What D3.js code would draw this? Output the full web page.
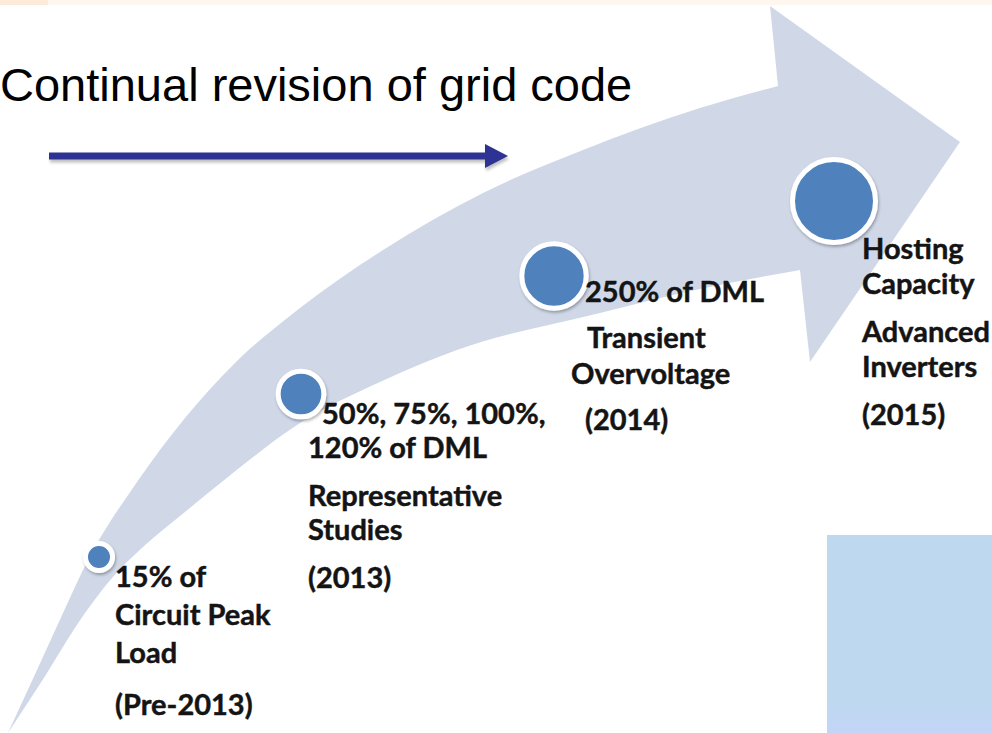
<!DOCTYPE html>
<html>
<head>
<meta charset="utf-8">
<script src="https://cdn.jsdelivr.net/npm/d3@7"></script>
<style>
    body { margin: 0; background: #ffffff; overflow: hidden; }
    #chart-area { width: 992px; height: 733px; }
    .grid-title { font-family: "Liberation Sans", Arial, sans-serif; font-size: 47px; fill: #000000; }
    .stage-text { font-family: Lato, "Open Sans", sans-serif; font-weight: bold; font-size: 29px; fill: #141414;
        stroke: #141414; stroke-width: 0.45px; }
</style>
</head>
<body>
<div id="chart-area"></div>
<script>

// data
let stageNames = ["Pre-2013", "2013", "2014", "2015"];
let stageLevels = [1, 2, 3, 4];
let stageTopics = [
    [["15% of", "Circuit Peak", "Load"]],
    [["50%, 75%, 100%,", "120% of DML"], ["Representative", "Studies"]],
    [["250% of DML"], ["Transient", "Overvoltage"]],
    [["Hosting", "Capacity"], ["Advanced", "Inverters"]]
];
let stageYears = ["(Pre-2013)", "(2013)", "(2014)", "(2015)"];
let titleText = "Continual revision of grid code";


class TimelineVis {

    constructor(parentElement) {
        this.parentElement = parentElement;
        this.initVis()
    }

    initVis() {
        let vis = this;

        vis.width = 992;
        vis.height = 733;

        vis.svg = d3.select("#" + vis.parentElement).append("svg")
            .attr("width", vis.width)
            .attr("height", vis.height);

        let defs = vis.svg.append("defs");

        defs.append("filter")
            .attr("id", "dotShadow")
            .attr("x", "-30%").attr("y", "-30%")
            .attr("width", "160%").attr("height", "160%")
            .append("feDropShadow")
            .attr("dx", 1).attr("dy", 2)
            .attr("stdDeviation", 1.5)
            .attr("flood-color", "#000")
            .attr("flood-opacity", 0.3);

        defs.append("filter")
            .attr("id", "lineShadow")
            .attr("x", "-5%").attr("y", "-80%")
            .attr("width", "110%").attr("height", "260%")
            .append("feDropShadow")
            .attr("dx", 1).attr("dy", 3)
            .attr("stdDeviation", 1.5)
            .attr("flood-color", "#000")
            .attr("flood-opacity", 0.25);

        let rectGrad = defs.append("linearGradient")
            .attr("id", "rectGrad")
            .attr("x1", "0%").attr("y1", "0%")
            .attr("x2", "0%").attr("y2", "100%");
        rectGrad.append("stop").attr("offset", "0%").style("stop-color", "#bed8f0");
        rectGrad.append("stop").attr("offset", "84%").style("stop-color", "#bed8f0");
        rectGrad.append("stop").attr("offset", "100%").style("stop-color", "#c3d5f7");

        // faint strip along the top edge
        vis.svg.append("rect")
            .attr("x", 0).attr("y", 0)
            .attr("width", vis.width).attr("height", 5)
            .attr("fill", "#fdf7f0");
        vis.svg.append("rect")
            .attr("x", 0).attr("y", 0)
            .attr("width", 48).attr("height", 5)
            .attr("fill", "#fcebd9");

        // big curved arrow (outline of the shape, not data)
        let upperEdge = [[8, 733], [37, 670], [63, 613], [88, 560], [137, 482], [185, 418], [233, 365],
            [300, 308], [383, 250], [483, 193], [583, 150], [700, 108], [778, 86]];
        let arrowHead = [[770, 6], [960, 142], [810, 362], [800, 270]];
        let lowerEdge = [[8, 733], [40, 684], [85, 613], [112, 578], [143, 547], [185, 512], [228, 477],
            [300, 423], [380, 382], [457, 350], [600, 313], [700, 289], [800, 270]];

        let edge = d3.line().curve(d3.curveMonotoneX);
        let bandPath = edge(upperEdge)
            + arrowHead.map(p => "L" + p[0] + "," + p[1]).join("")
            + edge(lowerEdge.slice().reverse()).replace(/^M/, "L")
            + "Z";

        vis.svg.append("path")
            .attr("class", "band")
            .attr("d", bandPath)
            .attr("fill", "#d0d8e8");

        // title
        vis.svg.append("text")
            .attr("class", "grid-title")
            .attr("x", 0)
            .attr("y", 101)
            .text(titleText);

        // straight navy arrow
        let arrowG = vis.svg.append("g")
            .attr("filter", "url(#lineShadow)");
        arrowG.append("rect")
            .attr("x", 49).attr("y", 152.5)
            .attr("width", 440).attr("height", 7)
            .attr("fill", "#2e3192");
        arrowG.append("path")
            .attr("d", "M485,144L508,156L485,168Z")
            .attr("fill", "#2e3192");

        // light blue box bottom right
        vis.svg.append("rect")
            .attr("x", 827).attr("y", 535)
            .attr("width", 165).attr("height", 198)
            .attr("fill", "url(#rectGrad)");

        // scales: stage index -> position along the arrow, level -> dot size
        vis.x = d3.scaleLinear()
            .domain([0, 1, 2, 3])
            .range([99, 301, 554, 834]);

        vis.y = d3.scaleLinear()
            .domain([0, 1, 2, 3])
            .range([557, 394, 276, 201]);

        vis.r = d3.scaleLinear()
            .domain([1, 4])
            .range([11, 39]);

        // text layout for each stage
        vis.textLayout = [
            {x: 115, y: 587, lineH: 38, gap: 52, dx: [0, 0, 0, 0]},
            {x: 308, y: 424, lineH: 34, gap: 48, dx: [14, 0, 0, 0, 0]},
            {x: 571, y: 302, lineH: 36, gap: 46, dx: [14, 16, 0, 14]},
            {x: 862, y: 259, lineH: 34.5, gap: 48.5, dx: [0, 0, 0, 0, 0]}
        ];

        vis.updateVis()
    }

    updateVis() {
        let vis = this;

        let stages = stageNames.map((d, i) => ({
            name: d,
            index: i,
            level: stageLevels[i],
            topics: stageTopics[i],
            year: stageYears[i]
        }));

        // dots
        vis.svg.selectAll(".stage-dot")
            .data(stages)
            .enter().append("circle")
            .attr("class", "stage-dot")
            .attr("cx", d => vis.x(d.index))
            .attr("cy", d => vis.y(d.index))
            .attr("r", d => vis.r(d.level) + 2.5)
            .attr("fill", "#4f81bd")
            .attr("stroke", "#ffffff")
            .attr("stroke-width", 5)
            .attr("filter", "url(#dotShadow)");

        // labels
        stages.forEach(d => {
            let lay = vis.textLayout[d.index];
            let lines = [];
            let yy = lay.y;
            d.topics.forEach((para, p) => {
                if (p > 0) yy += lay.gap - lay.lineH;
                para.forEach(t => {
                    lines.push({text: t, y: yy});
                    yy += lay.lineH;
                });
            });
            lines.push({text: d.year, y: yy - lay.lineH + lay.gap});

            vis.svg.selectAll(".stage-text-" + d.index)
                .data(lines)
                .enter().append("text")
                .attr("class", "stage-text stage-text-" + d.index)
                .attr("x", (l, i) => lay.x + lay.dx[i])
                .attr("y", l => l.y)
                .text(l => l.text);
        });
    }
}

let myTimelineVis = new TimelineVis("chart-area");

</script>
</body>
</html>
